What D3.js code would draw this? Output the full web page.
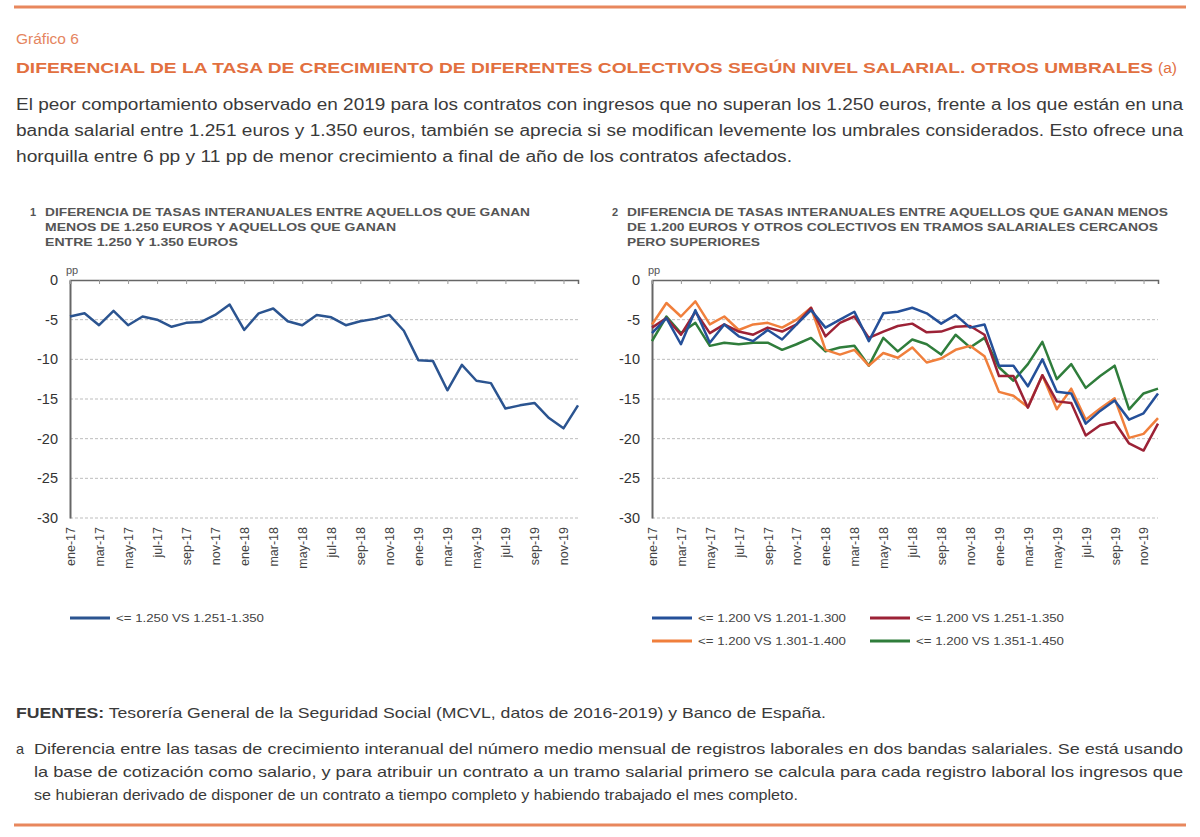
<!DOCTYPE html>
<html lang="es">
<head>
<meta charset="UTF-8">
<title>Gráfico 6</title>
<script src="https://d3js.org/d3.v7.min.js"></script>
<style>
  body { margin: 0; background: #fff; }
  svg { display: block; font-family: "Liberation Sans", Arial, sans-serif; }
  .grid line { stroke: #bdbdbd; stroke-dasharray: 3,2; }
  .ylab text { font-size: 14.5px; fill: #333; }
  .xlab text { font-size: 12.5px; fill: #444; }
</style>
</head>
<body>
<svg width="1200" height="837"></svg>
<script>
var months = ["ene-17","feb-17","mar-17","abr-17","may-17","jun-17","jul-17","ago-17","sep-17","oct-17","nov-17","dic-17",
              "ene-18","feb-18","mar-18","abr-18","may-18","jun-18","jul-18","ago-18","sep-18","oct-18","nov-18","dic-18",
              "ene-19","feb-19","mar-19","abr-19","may-19","jun-19","jul-19","ago-19","sep-19","oct-19","nov-19","dic-19"];
var xTickLabels = ["ene-17","mar-17","may-17","jul-17","sep-17","nov-17","ene-18","mar-18","may-18","jul-18","sep-18","nov-18",
                   "ene-19","mar-19","may-19","jul-19","sep-19","nov-19"];
var yTicks = [0, -5, -10, -15, -20, -25, -30];

// grafico 1
var s1250 = [-4.6,-4.2,-5.7,-3.9,-5.7,-4.6,-5.0,-5.9,-5.4,-5.3,-4.4,-3.1,-6.3,-4.2,-3.6,-5.2,-5.7,-4.4,
             -4.7,-5.7,-5.2,-4.9,-4.4,-6.4,-10.1,-10.2,-13.9,-10.7,-12.7,-13.0,-16.2,-15.8,-15.5,-17.4,-18.7,-15.8];
// grafico 2
var s1201 = [-6.7,-4.8,-8.1,-3.8,-7.9,-5.6,-7.1,-7.7,-6.3,-7.5,-5.6,-3.8,-6.0,-5.0,-4.0,-7.7,-4.2,-4.0,
             -3.5,-4.2,-5.5,-4.4,-6.0,-5.6,-10.8,-10.8,-13.4,-10.0,-14.1,-14.3,-18.1,-16.5,-15.2,-17.6,-16.8,-14.3];
var s1251 = [-6.0,-4.8,-6.9,-4.0,-6.7,-5.6,-6.5,-6.9,-6.0,-6.5,-5.6,-3.5,-7.1,-5.4,-4.6,-7.3,-6.5,-5.8,
             -5.5,-6.6,-6.5,-5.9,-5.8,-6.9,-12.1,-12.1,-16.1,-12.0,-15.3,-15.5,-19.6,-18.3,-17.9,-20.6,-21.5,-18.1];
var s1301 = [-5.6,-2.9,-4.6,-2.7,-5.6,-4.6,-6.3,-5.6,-5.4,-6.0,-5.0,-3.5,-8.8,-9.4,-8.8,-10.8,-9.2,-9.8,
             -8.5,-10.4,-9.9,-8.8,-8.3,-9.6,-14.1,-14.6,-16.0,-12.0,-16.3,-13.7,-17.6,-16.2,-14.9,-19.9,-19.4,-17.4];
var s1351 = [-7.7,-4.6,-6.7,-5.4,-8.3,-7.9,-8.1,-7.9,-7.9,-8.8,-8.1,-7.3,-9.0,-8.5,-8.3,-10.8,-7.3,-9.0,
             -7.5,-8.1,-9.4,-6.9,-8.5,-7.3,-11.0,-12.7,-10.6,-7.8,-12.5,-10.6,-13.6,-12.1,-10.8,-16.3,-14.3,-13.7];

var svg = d3.select("svg");
var orange = "#e2703f";

// marco
svg.append("line").attr("x1", 14).attr("x2", 1186).attr("y1", 7).attr("y2", 7)
   .attr("stroke", "#e8875d").attr("stroke-width", 3);
svg.append("line").attr("x1", 14).attr("x2", 1186).attr("y1", 825).attr("y2", 825)
   .attr("stroke", "#e8875d").attr("stroke-width", 3);

svg.append("text").attr("x", 16).attr("y", 44).attr("font-size", 15.5).attr("fill", "#e58560")
   .text("Gráfico 6");
svg.append("text").attr("x", 16).attr("y", 73).attr("font-size", 15.5).attr("font-weight", "bold")
   .attr("fill", orange).attr("textLength", 1137).attr("lengthAdjust", "spacingAndGlyphs")
   .text("DIFERENCIAL DE LA TASA DE CRECIMIENTO DE DIFERENTES COLECTIVOS SEGÚN NIVEL SALARIAL. OTROS UMBRALES");
svg.append("text").attr("x", 1158).attr("y", 73).attr("font-size", 15.5).attr("fill", orange).text("(a)");

var intro = [
  ["El peor comportamiento observado en 2019 para los contratos con ingresos que no superan los 1.250 euros, frente a los que están en una", 1167],
  ["banda salarial entre 1.251 euros y 1.350 euros, también se aprecia si se modifican levemente los umbrales considerados. Esto ofrece una", 1167],
  ["horquilla entre 6 pp y 11 pp de menor crecimiento a final de año de los contratos afectados.", 776]
];
intro.forEach(function(l, i) {
  svg.append("text").attr("x", 16).attr("y", 110 + i * 26).attr("font-size", 16).attr("fill", "#3a3a3a")
     .attr("textLength", l[1]).attr("lengthAdjust", "spacingAndGlyphs").text(l[0]);
});

function chart(cfg) {
  var x = d3.scalePoint().domain(months).range([cfg.x0, cfg.x1]);
  var y = d3.scaleLinear().domain([-30, 0]).range([518, 280]);

  // subtitulo
  svg.append("text").attr("x", cfg.x0 - 40).attr("y", 216).attr("font-size", 11).attr("font-weight", "bold")
     .attr("fill", "#555").text(cfg.num);
  cfg.title.forEach(function(l, i) {
    svg.append("text").attr("x", cfg.x0 - 25).attr("y", 216 + i * 15).attr("font-size", 11)
       .attr("font-weight", "bold").attr("fill", "#555")
       .attr("textLength", l[1]).attr("lengthAdjust", "spacingAndGlyphs").text(l[0]);
  });
  svg.append("text").attr("x", cfg.x0 - 4).attr("y", 274).attr("font-size", 11).attr("fill", "#555").text("pp");

  // rejilla
  svg.append("g").attr("class", "grid")
     .selectAll("line").data(yTicks.filter(function(d) { return d < 0; })).enter().append("line")
     .attr("x1", cfg.x0).attr("x2", cfg.x1).attr("y1", function(d) { return y(d); }).attr("y2", function(d) { return y(d); });

  // eje y
  var gy = svg.append("g").attr("class", "ylab").attr("transform", "translate(" + cfg.x0 + ",0)")
     .call(d3.axisLeft(y).tickValues(yTicks).tickSize(0).tickPadding(12)
       .tickFormat(function(d) { return String(d); }));
  gy.select(".domain").attr("stroke", "#666").attr("stroke-width", 2);

  // eje x arriba (en 0)
  var gt = svg.append("g").attr("transform", "translate(0," + y(0) + ")")
     .call(d3.axisTop(x).tickValues(xTickLabels).tickSize(-4).tickFormat(""));
  gt.select(".domain").attr("stroke", "#666").attr("stroke-width", 1.5);
  gt.selectAll(".tick line").attr("stroke", "#999");

  // etiquetas x
  var gb = svg.append("g").attr("class", "xlab").attr("transform", "translate(0," + y(-30) + ")")
     .call(d3.axisBottom(x).tickValues(xTickLabels).tickSize(0));
  gb.select(".domain").remove();
  gb.selectAll("text").attr("transform", "rotate(-90)").attr("text-anchor", "end")
     .attr("x", -9).attr("y", 0).attr("dy", "0.35em");

  var line = d3.line().x(function(d, i) { return x(months[i]); }).y(function(d) { return y(d); });
  cfg.series.forEach(function(s) {
    svg.append("path").datum(s.values).attr("d", line).attr("fill", "none")
       .attr("stroke", s.color).attr("stroke-width", 2.5).attr("stroke-linejoin", "round");
  });

  cfg.series.forEach(function(s) {
    svg.append("line").attr("x1", s.lx).attr("x2", s.lx + 40).attr("y1", s.ly).attr("y2", s.ly)
       .attr("stroke", s.color).attr("stroke-width", 3);
    svg.append("text").attr("x", s.lx + 46).attr("y", s.ly + 4).attr("font-size", 11.5).attr("fill", "#444")
       .attr("textLength", 148).attr("lengthAdjust", "spacingAndGlyphs").text(s.name);
  });
}

chart({
  x0: 70, x1: 578, num: "1",
  title: [["DIFERENCIA DE TASAS INTERANUALES ENTRE AQUELLOS QUE GANAN", 485],
          ["MENOS DE 1.250 EUROS Y AQUELLOS QUE GANAN", 351],
          ["ENTRE 1.250 Y 1.350 EUROS", 193]],
  series: [{ name: "<= 1.250 VS 1.251-1.350", values: s1250, color: "#2b5490", lx: 70, ly: 618 }]
});

chart({
  x0: 652, x1: 1158, num: "2",
  title: [["DIFERENCIA DE TASAS INTERANUALES ENTRE AQUELLOS QUE GANAN MENOS", 541],
          ["DE 1.200 EUROS Y OTROS COLECTIVOS EN TRAMOS SALARIALES CERCANOS", 531],
          ["PERO SUPERIORES", 133]],
  series: [
    { name: "<= 1.200 VS 1.351-1.450", values: s1351, color: "#2f7d3b", lx: 870, ly: 641 },
    { name: "<= 1.200 VS 1.301-1.400", values: s1301, color: "#f07f3c", lx: 652, ly: 641 },
    { name: "<= 1.200 VS 1.251-1.350", values: s1251, color: "#9c2236", lx: 870, ly: 618 },
    { name: "<= 1.200 VS 1.201-1.300", values: s1201, color: "#255099", lx: 652, ly: 618 }
  ]
});

// fuentes y nota
var f = svg.append("text").attr("x", 16).attr("y", 718).attr("font-size", 14.5).attr("fill", "#3a3a3a")
   .attr("textLength", 810).attr("lengthAdjust", "spacingAndGlyphs");
f.append("tspan").attr("font-weight", "bold").text("FUENTES:");
f.append("tspan").text(" Tesorería General de la Seguridad Social (MCVL, datos de 2016-2019) y Banco de España.");

svg.append("text").attr("x", 16).attr("y", 754).attr("font-size", 14.5).attr("fill", "#3a3a3a").text("a");
var notes = [
  ["Diferencia entre las tasas de crecimiento interanual del número medio mensual de registros laborales en dos bandas salariales. Se está usando", 1149],
  ["la base de cotización como salario, y para atribuir un contrato a un tramo salarial primero se calcula para cada registro laboral los ingresos que", 1149],
  ["se hubieran derivado de disponer de un contrato a tiempo completo y habiendo trabajado el mes completo.", 764]
];
notes.forEach(function(l, i) {
  svg.append("text").attr("x", 34).attr("y", 754 + i * 23).attr("font-size", 14.5).attr("fill", "#3a3a3a")
     .attr("textLength", l[1]).attr("lengthAdjust", "spacingAndGlyphs").text(l[0]);
});
</script>
</body>
</html>
